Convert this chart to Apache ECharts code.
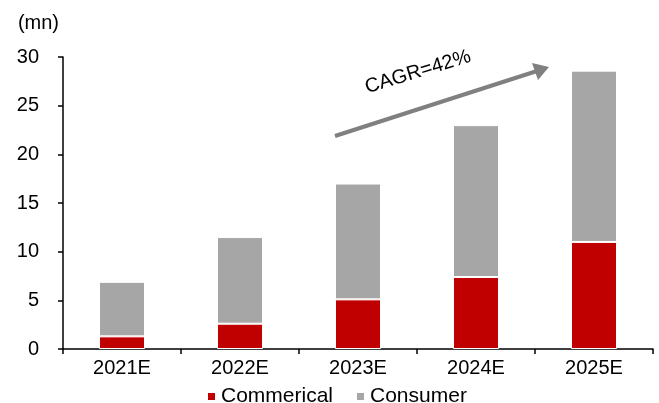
<!DOCTYPE html>
<html>
<head>
<meta charset="utf-8">
<script src="https://cdn.jsdelivr.net/npm/echarts@6/dist/echarts.min.js"></script>
<style>
  html, body { margin: 0; padding: 0; background: #fff; }
  #chart { width: 659px; height: 403px; }
</style>
</head>
<body>
<div id="chart"></div>
<script>
// Forecast units (mn) by segment
const years = ['2021E', '2022E', '2023E', '2024E', '2025E'];
const commercial = [1.3, 2.6, 5.1, 7.4, 11.0];
const consumer = [5.6, 8.9, 11.9, 15.6, 17.6];
const yTicks = [0, 5, 10, 15, 20, 25, 30];

const FONT = '"Liberation Sans", Arial, sans-serif';
const chart = echarts.init(document.getElementById('chart'), null, { renderer: 'canvas' });

const option = {
  animation: false,
  backgroundColor: '#fff',
  textStyle: { fontFamily: FONT },
  grid: { left: 63, right: 6, top: 57, bottom: 54, containLabel: false },
  legend: {
    top: 386,
    left: 206,
    itemWidth: 9,
    itemHeight: 9,
    itemGap: 22,
    icon: 'rect',
    padding: 0,
    textStyle: { fontFamily: FONT, fontSize: 21, color: '#000', padding: [0, 0, 0, 0] },
    data: ['Commerical', 'Consumer']
  },
  xAxis: {
    type: 'category',
    data: years,
    axisLine: { lineStyle: { color: '#000', width: 1.5 } },
    axisTick: { show: true, length: 5, lineStyle: { color: '#000', width: 1.5 } },
    axisLabel: { color: '#000', fontSize: 20, fontFamily: FONT, margin: 9 }
  },
  yAxis: {
    type: 'value',
    min: yTicks[0],
    max: yTicks[yTicks.length - 1],
    interval: 5,
    name: '(mn)',
    nameLocation: 'end',
    nameGap: 24,
    nameTextStyle: { color: '#000', fontSize: 20, fontFamily: FONT, align: 'right', padding: [0, 4, 0, 0] },
    axisLine: { show: true, lineStyle: { color: '#000', width: 1.5 } },
    axisTick: { show: true, length: 5, lineStyle: { color: '#000', width: 1.5 } },
    splitLine: { show: false },
    axisLabel: { color: '#000', fontSize: 20, fontFamily: FONT, margin: 24 }
  },
  series: [
    {
      name: 'Commerical',
      type: 'bar',
      stack: 'total',
      barWidth: 46,
      data: commercial,
      itemStyle: { color: '#C00000', borderColor: '#fff', borderWidth: 1 }
    },
    {
      name: 'Consumer',
      type: 'bar',
      stack: 'total',
      barWidth: 46,
      data: consumer,
      itemStyle: { color: '#A6A6A6', borderColor: '#fff', borderWidth: 1 }
    }
  ],
  graphic: [
    // growth arrow annotation
    {
      type: 'line',
      shape: { x1: 335, y1: 136, x2: 537, y2: 71 },
      style: { stroke: '#808080', lineWidth: 4 },
      z: 10
    },
    {
      type: 'polygon',
      shape: { points: [[549, 67], [532, 63], [538, 80]] },
      style: { fill: '#808080' },
      z: 10
    },
    {
      type: 'text',
      x: 418,
      y: 72,
      rotation: 17 * Math.PI / 180,
      style: {
        text: 'CAGR=42%',
        font: '20px "Liberation Sans", Arial, sans-serif',
        fill: '#000',
        align: 'center',
        verticalAlign: 'middle'
      },
      z: 10
    }
  ]
};

chart.setOption(option);
</script>
</body>
</html>
